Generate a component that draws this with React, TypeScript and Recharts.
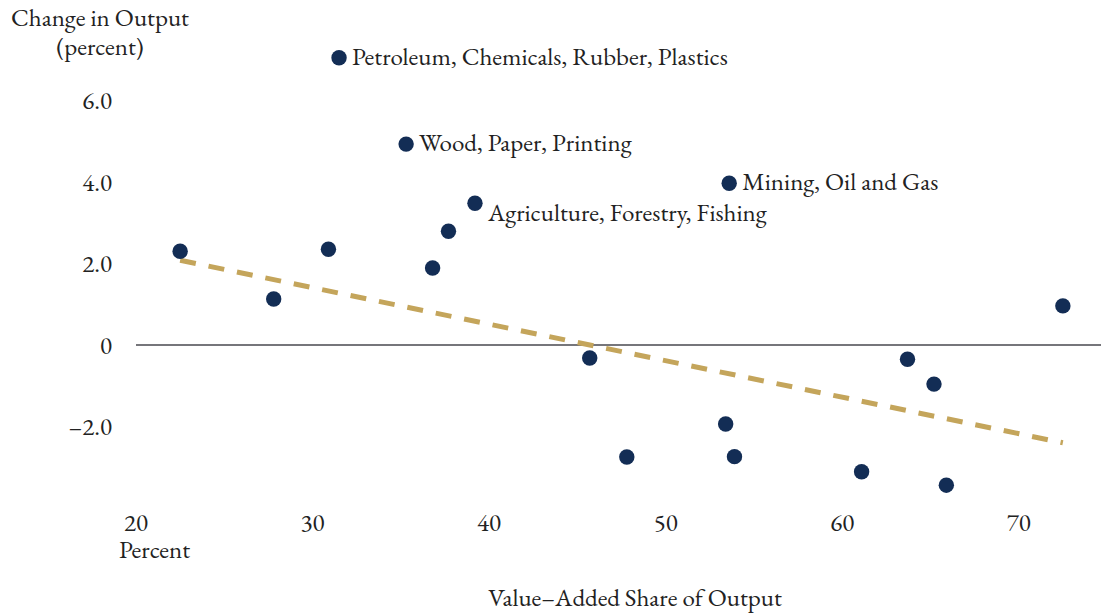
import { ScatterChart, Scatter, XAxis, YAxis, ReferenceLine } from 'recharts'

// value-added share of output (x) vs change in output (y), one dot per industry
const shares = [22.5, 27.8, 30.9, 31.5, 35.3, 36.8, 37.7, 39.2, 45.7, 47.8, 53.4, 53.6, 53.9, 61.1, 63.7, 65.2, 65.9, 72.5]
const changes = [2.3, 1.13, 2.35, 7.05, 4.93, 1.89, 2.79, 3.48, -0.32, -2.75, -1.94, 3.97, -2.74, -3.11, -0.35, -0.96, -3.44, 0.96]
const names = [
  '', '', '',
  'Petroleum, Chemicals, Rubber, Plastics',
  'Wood, Paper, Printing',
  '', '',
  'Agriculture, Forestry, Fishing',
  '', '', '',
  'Mining, Oil and Gas',
  '', '', '', '', '', '',
]

const trendX = [22.5, 72.5]
const trendY = [2.08, -2.4]

const xTicks = [20, 30, 40, 50, 60, 70]
const yTicks = [-2, 0, 2, 4, 6]

const NAVY = '#132d55'
const GOLD = '#c4a55b'
const TEXT = '#222222'
const FONT = '"EB Garamond", "Liberation Serif", serif'
const FS = 25

const points = shares.map((x, i) => ({ x, y: changes[i], name: names[i] }))
const trend = trendX.map((x, i) => ({ x, y: trendY[i] }))

function fmtY(v: number) {
  if (v === 0) return '0'
  return v < 0 ? `–${Math.abs(v).toFixed(1)}` : v.toFixed(1)
}

function Dot(props: { cx?: number; cy?: number; payload?: { name: string } }) {
  const { cx = 0, cy = 0, payload } = props
  const name = payload?.name ?? ''
  // agriculture label sits a little below its dot
  const dy = name.startsWith('Agriculture') ? 11 : 0
  return (
    <g>
      <circle cx={cx} cy={cy} r={7.7} fill={NAVY} />
      {name && (
        <text x={cx + 13} y={cy + dy} dy="0.28em" fill={TEXT} fontSize={FS} fontFamily={FONT}>
          {name}
        </text>
      )}
    </g>
  )
}

const abs = (style: React.CSSProperties): React.CSSProperties => ({
  position: 'absolute',
  fontFamily: FONT,
  fontSize: FS,
  color: TEXT,
  whiteSpace: 'nowrap',
  lineHeight: '29px',
  ...style,
})

export default function App() {
  return (
    <div style={{ position: 'absolute', left: 0, top: 0, width: 1101, height: 613, overflow: 'hidden', background: '#fff' }}>
      <ScatterChart width={1110} height={613} margin={{ top: 19, right: 3, bottom: 75, left: 0 }}>
        <XAxis
          type="number"
          dataKey="x"
          domain={[20, 75]}
          ticks={xTicks}
          axisLine={false}
          tickLine={false}
          tickMargin={-1}
          height={30}
          tick={{ fill: TEXT, fontSize: FS, fontFamily: FONT }}
        />
        <YAxis
          type="number"
          dataKey="y"
          domain={[-4, 8]}
          ticks={yTicks}
          tickFormatter={fmtY}
          axisLine={false}
          tickLine={false}
          tickMargin={18}
          width={136}
          tick={{ fill: TEXT, fontSize: FS, fontFamily: FONT }}
        />
        <ReferenceLine y={0} stroke="#76767b" strokeWidth={2} />
        <Scatter
          data={trend}
          line={{ stroke: GOLD, strokeWidth: 5, strokeDasharray: '16 13' }}
          shape={() => <g />}
          isAnimationActive={false}
        />
        <Scatter data={points} shape={<Dot />} isAnimationActive={false} />
      </ScatterChart>
      <div style={abs({ left: 0, width: 200, top: 3, textAlign: 'center' })}>
        Change in Output
        <br />
        (percent)
      </div>
      <div style={abs({ left: 119, top: 539, lineHeight: '20px' })}>Percent</div>
      <div style={abs({ left: 0, width: 1270, top: 583, textAlign: 'center' })}>Value–Added Share of Output</div>
    </div>
  )
}
